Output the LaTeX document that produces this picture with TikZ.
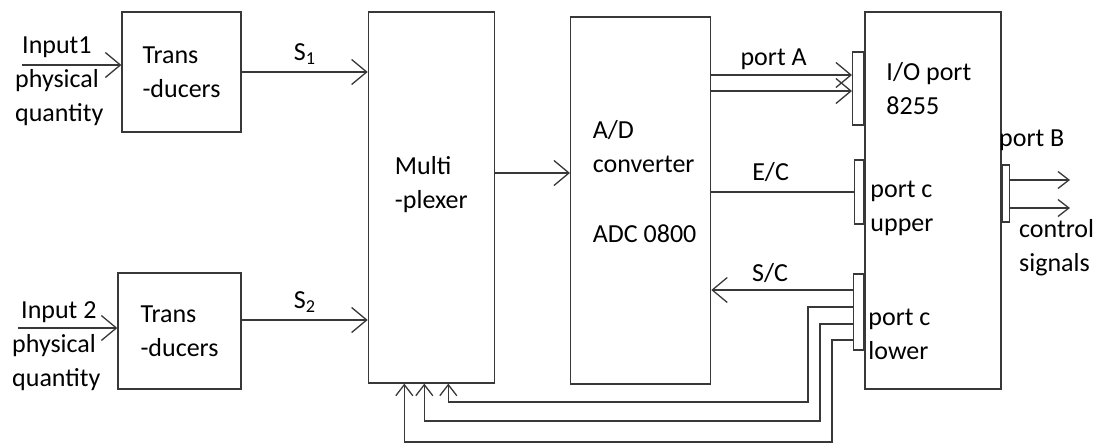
\documentclass[tikz,border=0pt]{standalone}
\usepackage{fontspec}
\setmainfont{Carlito}
\usepackage{tikz}
\usetikzlibrary{arrows.meta,positioning}

\begin{document}
\begin{tikzpicture}[
  x=1pt, y=-1pt,
  font=\fontsize{26pt}{34pt}\selectfont,
  box/.style ={draw=black!78, line width=1.3pt, inner sep=0pt, align=left},
  port/.style={draw=black!78, line width=1.3pt, inner sep=0pt},
  txt/.style ={inner sep=0pt, align=left},
  arr/.style ={-{Straight Barb[length=15pt,width=25pt]}, line width=1.3pt, draw=black!78},
  sarr/.style={-{Straight Barb[length=11pt,width=17pt]}, line width=1.3pt, draw=black!78},
  wire/.style={line width=1.3pt, draw=black!78}
]
\useasboundingbox (0,0) rectangle (1101,444);

% transducers
\node[box, minimum width=119pt, minimum height=120pt] (td1) at (181.5,72) {Trans\\-ducers};
\node[box, minimum width=123pt, minimum height=116pt] (td2) at (179.5,331) {Trans\\-ducers};

% main blocks
\node[box, minimum width=126pt, minimum height=371pt,
      right=126pt of td1.north east, anchor=north west] (mux) {};
\node[box, minimum width=140pt, minimum height=367pt,
      right=75pt of mux.north east, anchor=north west, yshift=-5pt] (adc) {};
\node[box, minimum width=136pt, minimum height=377pt,
      right=153pt of adc.north east, anchor=north west, yshift=5pt] (io) {};

\node[txt] (muxtxt) at ([yshift=13pt]mux.center) {Multi\\-plexer};
\node[txt] (adctxt) at ([xshift=4pt,yshift=19pt]adc.center) {A/D\\converter\\[36pt]ADC 0800};

% ports of the 8255
\node[port, minimum width=11pt, minimum height=73pt, anchor=north east] (pa) at ([yshift=-40pt]io.north west) {};
\node[port, minimum width=9pt,  minimum height=64pt, anchor=north east] (cu) at ([yshift=-148pt]io.north west) {};
\node[port, minimum width=10pt, minimum height=76pt, anchor=north east] (cl) at ([yshift=-262pt]io.north west) {};
\node[port, minimum width=7pt,  minimum height=57pt, anchor=north west] (pb) at ([yshift=-153pt]io.north east) {};

\node[txt, right=22pt of pa.east] (iotxt) {I/O port\\8255};
\node[txt, right=6pt of cu.east, yshift=-16pt] (cutxt) {port c\\upper};
\node[txt, right=4pt of cl.east, yshift=-22pt] (cltxt) {port c\\lower};
\node[txt, anchor=west] (pbtxt) at (999,140) {port B};
\node[txt, anchor=west] (ctltxt) at (1019,248) {control\\signals};

% inputs
\node[txt, anchor=west] (in1txt) at (15,81) {\hspace*{7pt}Input1\\physical\\quantity};
\node[txt, anchor=west] (in2txt) at (12,346) {\hspace*{9pt}Input 2\\physical\\quantity};
\coordinate (in1) at (22,65);
\coordinate (in2) at (18,328);
\coordinate (cs1) at (1070,180);
\coordinate (cs2) at (1070,208);
\coordinate (fb1) at (808,402);
\coordinate (fb2) at (820,421);
\coordinate (fb3) at (832,442);

\draw[arr] (in1) -- (in1 -| td1.west);
\draw[arr] (in2) -- (in2 -| td2.west);
\draw[arr] (td1.east) -- (td1.east -| mux.west) node[midway, above=4pt] {S\textsubscript{1}};
\draw[arr] ([yshift=11pt]td2.east) -- ([yshift=11pt]td2.east -| mux.west) node[midway, above=4pt] {S\textsubscript{2}};
\draw[arr] ([yshift=24.5pt]mux.east) -- ([yshift=24.5pt]mux.east -| adc.west);

\draw[arr] ([yshift=13.5pt]pa.west -| adc.east) -- ([yshift=13.5pt]pa.west) node[midway, above=1pt, xshift=-8pt] {port A};
\draw[arr] ([yshift=-2.5pt]pa.west -| adc.east) -- ([yshift=-2.5pt]pa.west);
\draw[wire] (cu.west -| adc.east) -- (cu.west) node[midway, above=6pt, xshift=-12pt] {E/C};
\draw[arr] ([yshift=22pt]cl.west) -- ([yshift=22pt]cl.west -| adc.east) node[midway, above=3pt, xshift=-12pt] {S/C};

% feedback from port c lower
\draw[sarr] ([yshift=5pt]cl.west)   -| (fb1) -| ([xshift=17pt]mux.south);
\draw[sarr] ([yshift=-12pt]cl.west) -| (fb2) -| ([xshift=-7pt]mux.south);
\draw[sarr] ([yshift=-28pt]cl.west) -| (fb3) -| ([xshift=-27pt]mux.south);

\draw[sarr] (cs1 -| pb.east) -- (cs1);
\draw[sarr] (cs2 -| pb.east) -- (cs2);
\end{tikzpicture}
\end{document}
